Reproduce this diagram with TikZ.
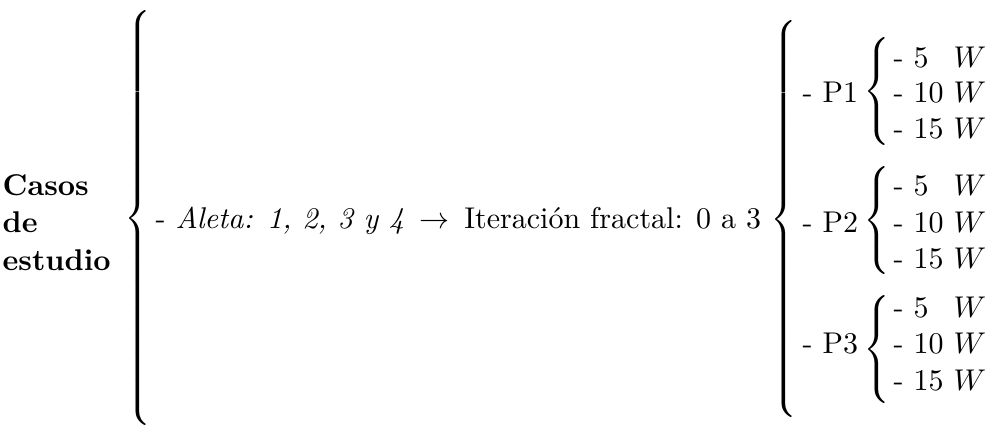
\documentclass[tikz,border=0pt]{standalone}
\usepackage{amsmath, amssymb}
\usepackage{tikz}
\usetikzlibrary{positioning}

\newcommand{\llave}[1]{$\left\{\vcenter{\hbox{\rule{0pt}{#1}}}\right.$}

\begin{document}
\begin{tikzpicture}[
    x=0.3333pt, y=-0.3333pt,
    txt/.style={anchor=base west, inner sep=0pt},
    brc/.style={anchor=center, inner sep=0pt}
]
    \useasboundingbox (0,0) rectangle (989,427);

    % titulo
    \node[txt, font=\bfseries] (cas) at (2,195) {Casos};
    \node[txt, font=\bfseries] (de) at (2,232) {de};
    \node[txt, font=\bfseries] (est) at (2,270) {estudio};

    \node[brc] (b0) at (140,218) {\llave{139pt}};
    \node[txt] (aleta) at (155,228) {- \textit{Aleta: 1, 2, 3 y 4} $\,\rightarrow\,$ Iteraci\'on fractal: 0 a 3};
    \node[brc] (b1) at (786,219) {\llave{132pt}};

    % P1
    \node[txt] (p1) at (802,102) {- P1};
    \node[brc] (bp1) at (879,91.5) {\llave{39.5pt}};
    \node[txt] (p1a) at (893,67) {- 5\phantom{0} $W$};
    \node[txt] (p1b) at (893,102) {- 10 $W$};
    \node[txt] (p1c) at (893,138) {- 15 $W$};

    % P2
    \node[txt] (p2) at (802,232) {- P2};
    \node[brc] (bp2) at (879,220.5) {\llave{39.5pt}};
    \node[txt] (p2a) at (893,195) {- 5\phantom{0} $W$};
    \node[txt] (p2b) at (893,232) {- 10 $W$};
    \node[txt] (p2c) at (893,268) {- 15 $W$};

    % P3
    \node[txt] (p3) at (802,353) {- P3};
    \node[brc] (bp3) at (879,349.5) {\llave{39.5pt}};
    \node[txt] (p3a) at (893,317) {- 5\phantom{0} $W$};
    \node[txt] (p3b) at (893,353) {- 10 $W$};
    \node[txt] (p3c) at (893,390) {- 15 $W$};
\end{tikzpicture}
\end{document}
